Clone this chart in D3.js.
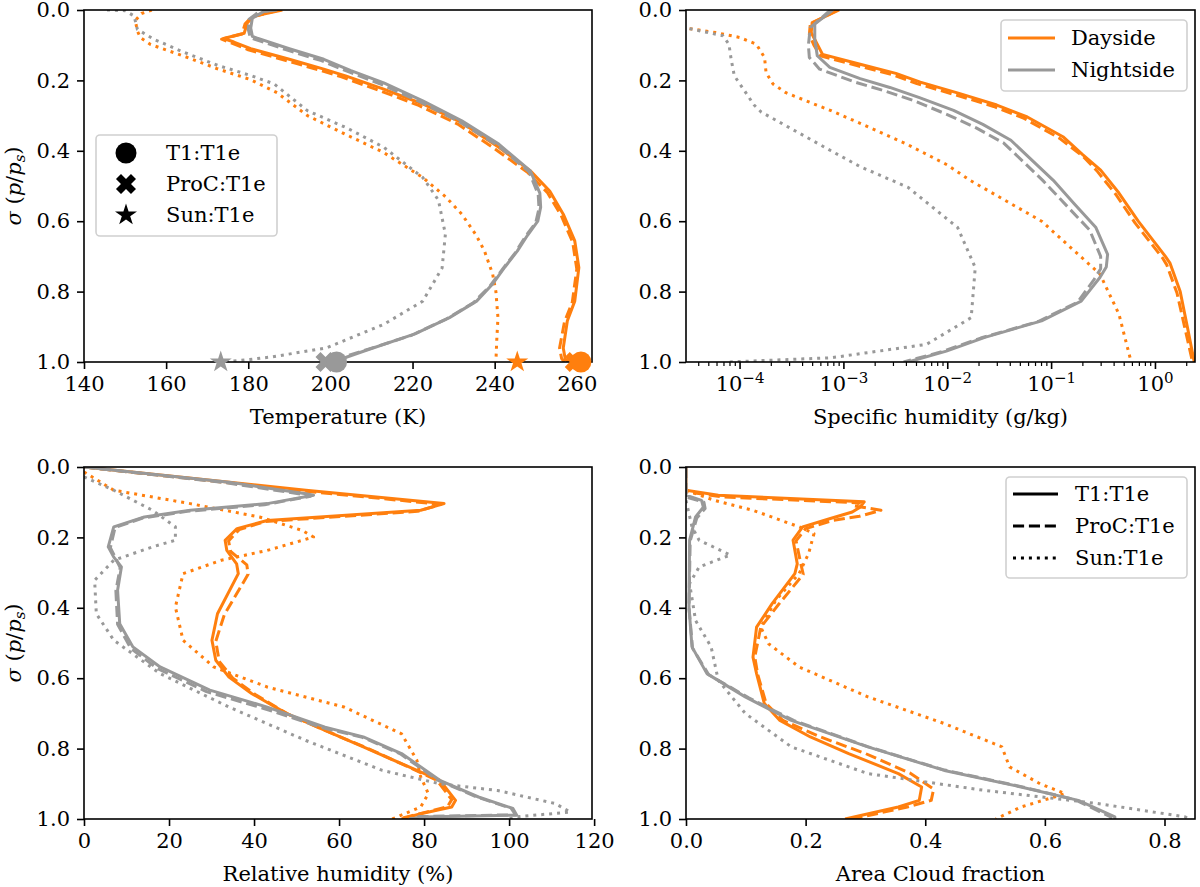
<!DOCTYPE html>
<html lang="en">
<head>
<meta charset="UTF-8" />
<title>Vertical profiles: Dayside / Nightside</title>
<script src="https://d3js.org/d3.v7.min.js"></script>
<style>
  body { margin:0; padding:0; background:#fff; }
  svg { display:block; }
  .tick line { stroke:#000; stroke-width:1.6px; }
  .minor line { stroke-width:1.2px; }
</style>
</head>
<body>
<svg width="1200" height="887"></svg>
<script>
// ---- data: [value, sigma] ----
// temperature (K)
const tempDayT1   = [[188.3,0],[181.5,0.017],[179.8,0.036],[179,0.066],[174,0.081],[176.5,0.091],[180.6,0.11],[190,0.14],[198.4,0.168],[203.7,0.187],[213,0.225],[222.5,0.267],[232,0.32],[241,0.39],[248.7,0.457],[253.4,0.514],[256.7,0.58],[259.5,0.656],[260.5,0.732],[259.5,0.827],[257.7,0.883],[256.7,0.96],[257.2,0.992],[258,1]];
const tempDayProC = [[187.5,0],[180.8,0.02],[179.2,0.04],[178.5,0.068],[173.5,0.083],[176,0.094],[180,0.113],[189,0.143],[197.4,0.171],[202.7,0.19],[212,0.229],[221.5,0.271],[231,0.324],[240,0.394],[248,0.461],[252.8,0.518],[256.2,0.584],[259,0.66],[260,0.736],[258.9,0.83],[257,0.886],[255.8,0.96],[256.3,0.99],[257,1]];
const tempDaySun  = [[156.5,0],[154,0.01],[152.5,0.03],[153,0.06],[153.8,0.079],[156.2,0.098],[164.3,0.131],[172.5,0.167],[180.6,0.198],[187,0.235],[194.4,0.3],[204,0.355],[213,0.405],[222.5,0.476],[228,0.53],[232,0.58],[235.5,0.64],[237.5,0.684],[239.5,0.75],[240.3,0.8],[240.8,0.874],[240.5,0.94],[240.3,1]];
const tempNightT1   = [[187,0],[183.8,0.004],[181,0.023],[180.6,0.051],[181,0.075],[182.2,0.08],[190,0.11],[198.4,0.14],[205,0.172],[213,0.207],[222.5,0.258],[232,0.315],[241,0.381],[248.7,0.457],[251,0.52],[251.2,0.56],[250.5,0.6],[248,0.64],[245.5,0.685],[242.5,0.73],[239.4,0.78],[235.6,0.827],[229,0.874],[220.6,0.92],[208.4,0.968],[203,0.99],[201.5,1]];
const tempNightProC = [[186,0],[182.5,0.006],[180.2,0.026],[180,0.055],[180.5,0.078],[181.8,0.084],[189.5,0.114],[197.8,0.144],[204.5,0.176],[212.4,0.211],[222,0.262],[231.6,0.319],[240.8,0.385],[248.4,0.46],[250.6,0.524],[250.8,0.564],[250,0.604],[247.4,0.645],[245,0.69],[242,0.735],[238.8,0.785],[234.8,0.832],[228.2,0.878],[219.8,0.924],[207.5,0.97],[201.5,0.992],[199,1]];
const tempNightSun  = [[145.6,0],[150,0.002],[152.2,0.017],[153,0.055],[157,0.083],[164.3,0.12],[172.5,0.157],[180.6,0.186],[186.3,0.21],[194.4,0.286],[204,0.335],[213,0.39],[222.5,0.476],[226.3,0.54],[228,0.637],[227.2,0.733],[222.5,0.827],[213,0.893],[199,0.96],[186,0.985],[180.3,0.993],[174,1]];
// surface temperature markers (K): T1, ProC, Sun
const surfDay   = [261, 259.5, 245.5];
const surfNight = [201.5, 198.8, 173.3];

// specific humidity (g/kg)
const qDayT1   = [[9.1e-4,0],[5e-4,0.036],[4.9e-4,0.064],[5.5e-4,0.093],[6.3e-4,0.126],[1.45e-3,0.154],[3.2e-3,0.18],[5.5e-3,0.205],[1.3e-2,0.237],[3e-2,0.27],[5.9e-2,0.304],[0.13,0.36],[0.2,0.41],[0.3,0.455],[0.45,0.52],[0.69,0.6],[1.26,0.7],[1.4,0.72],[1.75,0.8],[2.05,0.9],[2.39,1]];
const qDayProC = [[8.8e-4,0],[4.8e-4,0.04],[4.7e-4,0.07],[5.2e-4,0.1],[6e-4,0.13],[1.35e-3,0.158],[3e-3,0.184],[5.1e-3,0.209],[1.2e-2,0.241],[2.8e-2,0.274],[5.5e-2,0.308],[0.12,0.364],[0.2,0.414],[0.28,0.459],[0.42,0.524],[0.64,0.604],[1.18,0.704],[1.3,0.724],[1.63,0.804],[1.93,0.9],[2.3,1]];
const qDaySun  = [[3.3e-5,0.053],[5.9e-5,0.064],[1e-4,0.078],[1.45e-4,0.097],[1.74e-4,0.135],[1.8e-4,0.178],[2.1e-4,0.21],[2.8e-4,0.235],[5e-4,0.265],[7.6e-4,0.286],[1.45e-3,0.322],[4e-3,0.38],[1e-2,0.44],[1.66e-2,0.484],[8.1e-2,0.6],[0.295,0.75],[0.45,0.864],[0.59,1]];
const qNightT1   = [[7.9e-4,0],[5.3e-4,0.04],[5.3e-4,0.083],[5.6e-4,0.13],[7.4e-4,0.163],[1.45e-3,0.195],[2.8e-3,0.22],[5.4e-3,0.249],[1.15e-2,0.285],[2.2e-2,0.325],[4.1e-2,0.37],[0.105,0.484],[0.166,0.55],[0.27,0.618],[0.35,0.694],[0.34,0.73],[0.295,0.76],[0.195,0.827],[0.081,0.883],[0.023,0.93],[9.8e-3,0.969],[4.2e-3,1]];
const qNightProC = [[7.5e-4,0],[4.8e-4,0.05],[4.6e-4,0.1],[4.7e-4,0.135],[5.9e-4,0.168],[1.3e-3,0.205],[2.5e-3,0.23],[4.8e-3,0.258],[1e-2,0.297],[1.9e-2,0.335],[3.5e-2,0.378],[8.3e-2,0.484],[0.14,0.555],[0.235,0.625],[0.3,0.7],[0.3,0.735],[0.26,0.765],[0.18,0.83],[0.075,0.885],[0.021,0.932],[9e-3,0.97],[3.8e-3,1]];
const qNightSun  = [[3.3e-5,0.053],[6.9e-5,0.073],[7.9e-5,0.097],[8.3e-5,0.14],[8.9e-5,0.187],[1.12e-4,0.23],[1.38e-4,0.27],[1.62e-4,0.29],[7.6e-4,0.4],[1.45e-3,0.445],[4.2e-3,0.504],[1.26e-2,0.618],[1.86e-2,0.732],[1.7e-2,0.874],[6.3e-3,0.95],[7.6e-4,0.988],[7.6e-5,1]];

// relative humidity (%)
const rhDayT1   = [[0,0],[52.2,0.066],[84.7,0.104],[79.2,0.123],[43.1,0.152],[36,0.175],[33.2,0.208],[33.6,0.237],[35.9,0.275],[36.3,0.303],[31.4,0.417],[30.1,0.492],[31,0.549],[34.1,0.597],[39.5,0.644],[47.6,0.7],[56.7,0.748],[65.7,0.795],[74.7,0.843],[83.7,0.89],[87.4,0.947],[86.5,0.966],[79.2,0.985],[74.7,1]];
const rhDayProC = [[0,0],[51.5,0.068],[84,0.106],[78.5,0.126],[42.5,0.155],[36.5,0.178],[34,0.21],[34.5,0.24],[38.3,0.278],[38.6,0.305],[33,0.42],[31,0.495],[31.8,0.552],[35,0.6],[40.5,0.648],[48,0.702],[57,0.75],[66.3,0.797],[75,0.845],[83,0.89],[86.5,0.945],[85.5,0.965],[79,0.985],[74,1]];
const rhDaySun  = [[0,0.014],[7,0.066],[25,0.104],[41.3,0.142],[51.3,0.18],[54,0.199],[43.1,0.237],[32.3,0.265],[23.3,0.303],[21.5,0.398],[23.3,0.492],[30.5,0.568],[43.1,0.625],[61.2,0.682],[74.7,0.758],[78.3,0.833],[79.2,0.88],[81,0.928],[79.2,0.966],[72.5,1]];
const rhNightT1   = [[0,0],[34.1,0.043],[52.2,0.076],[54,0.08],[43.1,0.104],[25,0.123],[14.2,0.142],[7,0.17],[5.7,0.227],[7,0.256],[8.8,0.284],[7.9,0.35],[8.4,0.445],[11.5,0.511],[17.9,0.568],[29.6,0.634],[43.1,0.682],[56.7,0.739],[65.7,0.767],[74.7,0.814],[83.7,0.89],[92.8,0.9375],[100.9,0.97],[101.8,0.989],[79.2,0.994],[77,1]];
const rhNightProC = [[0,0],[33.5,0.045],[51.5,0.078],[53.3,0.083],[42.5,0.107],[24.3,0.126],[13.8,0.145],[7.3,0.172],[6.2,0.229],[7.4,0.258],[8.5,0.286],[7.5,0.352],[7.9,0.447],[11,0.515],[17.2,0.572],[28.8,0.638],[42.3,0.686],[56.2,0.741],[65.5,0.768],[74.4,0.815],[83.3,0.89],[92.5,0.938],[100.5,0.97],[101.5,0.988],[79,0.993],[76.5,1]];
const rhNightSun  = [[0,0.028],[7,0.066],[16.1,0.123],[21.5,0.17],[21.5,0.208],[16.1,0.227],[7,0.265],[2.5,0.322],[2.9,0.417],[7,0.492],[17.9,0.587],[34.1,0.682],[52.2,0.777],[70.2,0.862],[83.7,0.9],[97.3,0.919],[110.8,0.956],[114.4,0.98],[101.8,0.994],[100,1]];

// area cloud fraction
const cfDayT1   = [[0,0],[0,0.066],[0.054,0.08],[0.298,0.099],[0.291,0.114],[0.278,0.128],[0.24,0.147],[0.195,0.17],[0.179,0.208],[0.186,0.275],[0.182,0.303],[0.144,0.388],[0.118,0.455],[0.112,0.54],[0.118,0.587],[0.131,0.672],[0.157,0.72],[0.208,0.767],[0.272,0.814],[0.355,0.871],[0.394,0.909],[0.39,0.947],[0.355,0.966],[0.266,1]];
const cfDayProC = [[0,0],[0,0.07],[0.06,0.085],[0.29,0.102],[0.28,0.11],[0.326,0.123],[0.29,0.14],[0.245,0.152],[0.2,0.175],[0.184,0.21],[0.192,0.275],[0.196,0.305],[0.155,0.39],[0.125,0.455],[0.115,0.54],[0.12,0.59],[0.134,0.672],[0.162,0.72],[0.225,0.767],[0.3,0.814],[0.375,0.87],[0.414,0.915],[0.41,0.947],[0.37,0.966],[0.278,1]];
const cfDaySun  = [[0,0.066],[0.048,0.095],[0.112,0.123],[0.189,0.17],[0.214,0.189],[0.205,0.246],[0.189,0.303],[0.15,0.379],[0.125,0.455],[0.138,0.502],[0.189,0.568],[0.304,0.653],[0.432,0.729],[0.528,0.795],[0.541,0.852],[0.592,0.9],[0.634,0.928],[0.56,0.966],[0.518,1]];
const cfNightT1   = [[0,0],[0,0.08],[0.026,0.095],[0.029,0.114],[0.016,0.142],[0.006,0.208],[0.005,0.398],[0.01,0.511],[0.035,0.587],[0.099,0.653],[0.176,0.72],[0.304,0.795],[0.432,0.862],[0.56,0.909],[0.656,0.947],[0.717,0.994],[0.717,1]];
const cfNightProC = [[0,0],[0,0.085],[0.03,0.1],[0.032,0.118],[0.018,0.145],[0.007,0.21],[0.005,0.4],[0.011,0.515],[0.038,0.59],[0.105,0.656],[0.18,0.72],[0.305,0.795],[0.43,0.86],[0.555,0.906],[0.65,0.945],[0.71,0.994],[0.71,1]];
const cfNightSun  = [[0,0.095],[0.01,0.17],[0.022,0.208],[0.074,0.25],[0.022,0.284],[0.006,0.331],[0.016,0.436],[0.042,0.511],[0.054,0.606],[0.099,0.7],[0.176,0.795],[0.304,0.871],[0.496,0.918],[0.688,0.956],[0.835,0.994],[0.84,1]];

const sigmaTicks = [0, 0.2, 0.4, 0.6, 0.8, 1.0];
const expNames = ["T1:T1e", "ProC:T1e", "Sun:T1e"];
const sideNames = ["Dayside", "Nightside"];

// ---- styles ----
const DAY = "#ff7f0e", NIGHT = "#999999";
const LW = 3;
const DASH = ["none", "11.1,4.8", "3,4.95"];
const FONT = '"DejaVu Serif", "Liberation Serif", serif';
const FS = "21px";

const svg = d3.select("svg");

function group(day, night) {
  const out = [];
  day.forEach((d,k)=>out.push({data:d, color:DAY, dash:DASH[k]}));
  night.forEach((d,k)=>out.push({data:d, color:NIGHT, dash:DASH[k]}));
  return out;
}

function drawPanel(id, box, x, xTicks, xFmt, xLabel, series, withYLabel, isLog) {
  x.range([0, box.w]);
  const y = d3.scaleLinear().domain([0, 1]).range([0, box.h]);
  const g = svg.append("g").attr("transform", `translate(${box.l},${box.t})`);

  g.append("clipPath").attr("id", "clip" + id)
    .append("rect").attr("width", box.w).attr("height", box.h);

  const line = d3.line().x(d => x(d[0])).y(d => y(d[1]));
  g.append("g").attr("clip-path", `url(#clip${id})`)
    .selectAll("path").data(series).join("path")
    .attr("d", s => line(s.data))
    .attr("fill", "none")
    .attr("stroke", s => s.color)
    .attr("stroke-width", LW)
    .attr("stroke-linejoin", "round")
    .attr("stroke-dasharray", s => s.dash);

  // x axis
  const xa = g.append("g").attr("transform", `translate(0,${box.h})`)
    .call(d3.axisBottom(x).tickValues(xTicks).tickSize(7).tickPadding(7).tickSizeOuter(0).tickFormat(xFmt));
  xa.select(".domain").remove();
  if (isLog) {
    xa.selectAll(".tick text").each(function(d) {
      const t = d3.select(this);
      const e = Math.round(Math.log10(d));
      t.text("10");
      t.append("tspan").attr("dy", "-0.5em").style("font-size", "15px")
        .text(e < 0 ? "\u2212" + (-e) : String(e));
    });
    const [lo, hi] = x.domain();
    const minor = x.ticks().filter(v => v >= lo && v <= hi && !xTicks.some(m => Math.abs(m - v) / m < 1e-6));
    const mi = g.append("g").attr("class", "minor").attr("transform", `translate(0,${box.h})`)
      .call(d3.axisBottom(x).tickValues(minor).tickSize(4).tickFormat(""));
    mi.select(".domain").remove();
  }

  // y axis
  const ya = g.append("g")
    .call(d3.axisLeft(y).tickValues(sigmaTicks).tickSize(7).tickPadding(7).tickSizeOuter(0).tickFormat(d3.format(".1f")));
  ya.select(".domain").remove();

  // frame
  g.append("rect").attr("width", box.w).attr("height", box.h)
    .attr("fill", "none").attr("stroke", "#000").attr("stroke-width", 1.6);

  g.append("text")
    .attr("x", box.w / 2).attr("y", box.h + 62)
    .attr("text-anchor", "middle").text(xLabel);

  if (withYLabel) {
    const yl = g.append("text")
      .attr("transform", `translate(${14 - box.l},${box.h / 2}) rotate(-90)`)
      .attr("text-anchor", "middle").attr("dy", "0.35em");
    yl.append("tspan").style("font-style", "italic").text("\u03c3");
    yl.append("tspan").text(" (");
    yl.append("tspan").style("font-style", "italic").text("p");
    yl.append("tspan").text("/");
    yl.append("tspan").style("font-style", "italic").text("p");
    yl.append("tspan").style("font-style", "italic").style("font-size", "15px").attr("dy", "0.25em").text("s");
    yl.append("tspan").attr("dy", "-0.25em").text(")");
  }
  return {g, x, y};
}

function legendBox(g, x, y, w, h) {
  g.append("rect").attr("x", x).attr("y", y).attr("width", w).attr("height", h)
    .attr("rx", 4).attr("fill", "#fff").attr("fill-opacity", 0.8)
    .attr("stroke", "#d0d0d0").attr("stroke-width", 1.6);
}

const xSym = d3.symbol().type(d3.symbolCross).size(250);
const starSym = d3.symbol().type(d3.symbolStar).size(150);
function marker(sel, k, cx, cy, fill) {
  if (k === 0) sel.append("circle").attr("cx", cx).attr("cy", cy).attr("r", 10.5).attr("fill", fill);
  if (k === 1) sel.append("path").attr("d", xSym()).attr("fill", fill)
    .attr("transform", `translate(${cx},${cy}) rotate(45)`);
  if (k === 2) sel.append("path").attr("d", starSym()).attr("fill", fill)
    .attr("transform", `translate(${cx},${cy})`);
}

// ---- panel 1: temperature ----
const p1 = drawPanel(1, {l:84, t:10, w:508, h:352},
  d3.scaleLinear().domain([140, 263.7]), [140,160,180,200,220,240,260], d3.format("d"),
  "Temperature (K)",
  group([tempDayT1, tempDayProC, tempDaySun], [tempNightT1, tempNightProC, tempNightSun]), true, false);
// surface markers (not clipped); X drawn first so the circle overlaps it
[1, 0, 2].forEach(k => {
  marker(p1.g, k, p1.x(surfDay[k]), p1.y(1), DAY);
  marker(p1.g, k, p1.x(surfNight[k]), p1.y(1), NIGHT);
});
{
  const lg = p1.g.append("g");
  legendBox(lg, 96 - 84, 135 - 10, 181, 101);
  expNames.forEach((n, k) => {
    const cy = 153 - 10 + k * 31;
    marker(lg, k, 126 - 84, cy, "#000");
    lg.append("text").attr("x", 166 - 84).attr("y", cy).attr("dy", "0.35em").text(n);
  });
}

// ---- panel 2: specific humidity ----
const p2 = drawPanel(2, {l:686, t:10, w:509, h:352},
  d3.scaleLog().domain([3.05e-5, 2.43]), [1e-4,1e-3,1e-2,1e-1,1], null,
  "Specific humidity (g/kg)",
  group([qDayT1, qDayProC, qDaySun], [qNightT1, qNightProC, qNightSun]), false, true);
{
  const lg = p2.g.append("g");
  legendBox(lg, 1001 - 686, 20 - 10, 186, 71);
  [DAY, NIGHT].forEach((c, k) => {
    const cy = 38 - 10 + k * 32;
    lg.append("line").attr("x1", 1008 - 686).attr("x2", 1055 - 686).attr("y1", cy).attr("y2", cy)
      .attr("stroke", c).attr("stroke-width", LW);
    lg.append("text").attr("x", 1071 - 686).attr("y", cy).attr("dy", "0.35em").text(sideNames[k]);
  });
}

// ---- panel 3: relative humidity ----
drawPanel(3, {l:84, t:467, w:508, h:352},
  d3.scaleLinear().domain([0, 119.5]), [0,20,40,60,80,100,120], d3.format("d"),
  "Relative humidity (%)",
  group([rhDayT1, rhDayProC, rhDaySun], [rhNightT1, rhNightProC, rhNightSun]), true, false);

// ---- panel 4: cloud fraction ----
const p4 = drawPanel(4, {l:686, t:467, w:509, h:352},
  d3.scaleLinear().domain([0, 0.851]), [0,0.2,0.4,0.6,0.8], d3.format(".1f"),
  "Area Cloud fraction",
  group([cfDayT1, cfDayProC, cfDaySun], [cfNightT1, cfNightProC, cfNightSun]), false, false);
{
  const lg = p4.g.append("g");
  legendBox(lg, 1006 - 686, 477 - 467, 181, 101);
  expNames.forEach((n, k) => {
    const cy = 494 - 467 + k * 32;
    lg.append("line").attr("x1", 1013 - 686).attr("x2", 1058 - 686).attr("y1", cy).attr("y2", cy)
      .attr("stroke", "#000").attr("stroke-width", LW).attr("stroke-dasharray", DASH[k]);
    lg.append("text").attr("x", 1075 - 686).attr("y", cy).attr("dy", "0.35em").text(n);
  });
}

// all text in the serif face, set inline so axis defaults do not win
svg.selectAll("text").style("font-family", FONT).style("fill", "#000");
svg.selectAll("text").filter(function() { return !this.style.fontSize; }).style("font-size", FS);
</script>
</body>
</html>
